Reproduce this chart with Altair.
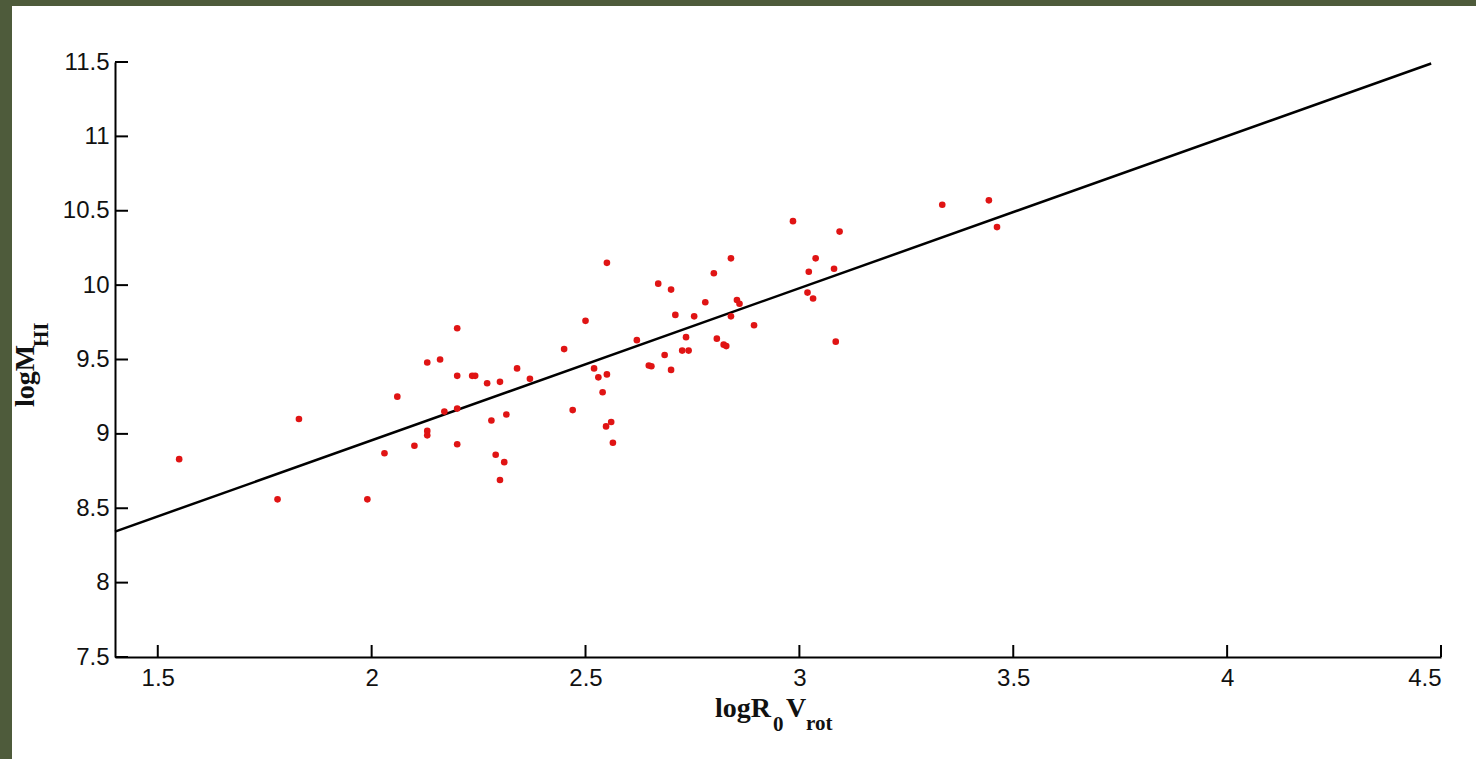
import altair as alt
import pandas as pd

# Galaxy sample: log(R0 * Vrot) against log(M_HI)
log_r0_vrot = [
    1.55, 1.78, 1.83, 1.99, 2.03, 2.06, 2.10, 2.13, 2.13, 2.13,
    2.16, 2.17, 2.20, 2.20, 2.20, 2.20, 2.235, 2.242, 2.27, 2.28,
    2.29, 2.30, 2.30, 2.31, 2.315, 2.34, 2.37, 2.45, 2.47, 2.50,
    2.52, 2.53, 2.55, 2.54, 2.55, 2.548, 2.56, 2.564, 2.62, 2.648,
    2.654, 2.67, 2.685, 2.70, 2.70, 2.71, 2.726, 2.741, 2.735, 2.754,
    2.78, 2.80, 2.807, 2.823, 2.829, 2.84, 2.84, 2.854, 2.86, 2.894,
    2.985, 3.022, 3.038, 3.019, 3.032, 3.081, 3.094, 3.085, 3.334, 3.443,
    3.462,
]
log_m_hi = [
    8.83, 8.56, 9.10, 8.56, 8.87, 9.25, 8.92, 9.02, 8.99, 9.48,
    9.50, 9.15, 9.17, 8.93, 9.71, 9.39, 9.39, 9.39, 9.34, 9.09,
    8.86, 8.69, 9.35, 8.81, 9.13, 9.44, 9.37, 9.57, 9.16, 9.76,
    9.44, 9.38, 9.40, 9.28, 10.15, 9.05, 9.08, 8.94, 9.63, 9.46,
    9.455, 10.01, 9.53, 9.97, 9.43, 9.80, 9.56, 9.56, 9.65, 9.79,
    9.885, 10.08, 9.64, 9.60, 9.59, 10.18, 9.79, 9.90, 9.875, 9.73,
    10.43, 10.09, 10.18, 9.95, 9.91, 10.11, 10.36, 9.62, 10.54, 10.57,
    10.39,
]

# Fitted relation, drawn between its two end points
fit_x = [1.4, 4.477]
fit_y = [8.343, 11.49]

x_ticks = [1.5, 2.0, 2.5, 3.0, 3.5, 4.0, 4.5]
y_ticks = [7.5, 8.0, 8.5, 9.0, 9.5, 10.0, 10.5, 11.0, 11.5]

W, H = 1326, 595
FRAME = "#4e5b3b"
LABEL_FONT = "Liberation Sans"
TITLE_FONT = "Liberation Serif"

pts = pd.DataFrame({"x": log_r0_vrot, "y": log_m_hi})
fit = pd.DataFrame({"x": fit_x, "y": fit_y})
xt = pd.DataFrame({"x": x_ticks})
yt = pd.DataFrame({"y": y_ticks})
one = pd.DataFrame({"k": [0]})

xscale = alt.Scale(domain=[1.4, 4.5], nice=False, zero=False)
yscale = alt.Scale(domain=[7.5, 11.5], nice=False, zero=False)

common_axis = dict(
    title=None, grid=False, ticks=False, tickSize=0,
    domainColor="black", domainWidth=2,
    labelFont=LABEL_FONT, labelFontSize=24, labelColor="#111111",
    labelOverlap=False, format=".1~f",
)
x_axis = alt.Axis(values=x_ticks, labelPadding=9, **common_axis)
y_axis = alt.Axis(values=y_ticks, labelPadding=6, **common_axis)

points = alt.Chart(pts).mark_circle(size=44, color="#e01414", opacity=1).encode(
    x=alt.X("x:Q", scale=xscale, axis=x_axis),
    y=alt.Y("y:Q", scale=yscale, axis=y_axis),
)

fit_line = alt.Chart(fit).mark_line(color="black", strokeWidth=2.5).encode(
    x=alt.X("x:Q", scale=xscale, axis=x_axis),
    y=alt.Y("y:Q", scale=yscale, axis=y_axis),
)

# Inward-pointing tick marks
x_tick_marks = alt.Chart(xt).mark_rule(color="black", strokeWidth=2).encode(
    x=alt.X("x:Q", scale=xscale, axis=x_axis),
    y=alt.value(H),
    y2=alt.value(H - 12),
)
y_tick_marks = alt.Chart(yt).mark_rule(color="black", strokeWidth=2).encode(
    y=alt.Y("y:Q", scale=yscale, axis=y_axis),
    x=alt.value(0),
    x2=alt.value(13),
)


def piece(text, x, y, size, angle=0):
    return alt.Chart(one).mark_text(
        text=text, font=TITLE_FONT, fontWeight="bold", fontSize=size,
        align="left", baseline="alphabetic", color="#111111", angle=angle,
    ).encode(x=alt.value(x), y=alt.value(y))


# x-axis title: logR0Vrot with subscripts
x_title = (
    piece("logR", 600, 655, 28)
    + piece("0", 658, 669, 21)
    + piece("V", 671, 655, 28)
    + piece("rot", 691, 668, 21)
)
# y-axis title: logMHI with subscript, read bottom to top
y_title = (
    piece("logM", -81, 345, 28, angle=270)
    + piece("HI", -67, 285, 21, angle=270)
)

# Dark frame along the left and top edges
frame_left = alt.Chart(one).mark_rect(color=FRAME).encode(
    x=alt.value(-115), x2=alt.value(-103), y=alt.value(-62), y2=alt.value(697)
)
frame_top = alt.Chart(one).mark_rect(color=FRAME).encode(
    x=alt.value(-115), x2=alt.value(1361), y=alt.value(-62), y2=alt.value(-56)
)

chart = alt.layer(
    frame_left, frame_top, fit_line, points, x_tick_marks, y_tick_marks,
    x_title, y_title,
).properties(
    width=W, height=H,
    autosize=alt.AutoSizeParams(type="none"),
    padding={"left": 115, "top": 62, "right": 35, "bottom": 102},
    background="white",
).configure_view(stroke=None)

chart.save("out.html", embed_options={"renderer": "svg", "actions": False})
